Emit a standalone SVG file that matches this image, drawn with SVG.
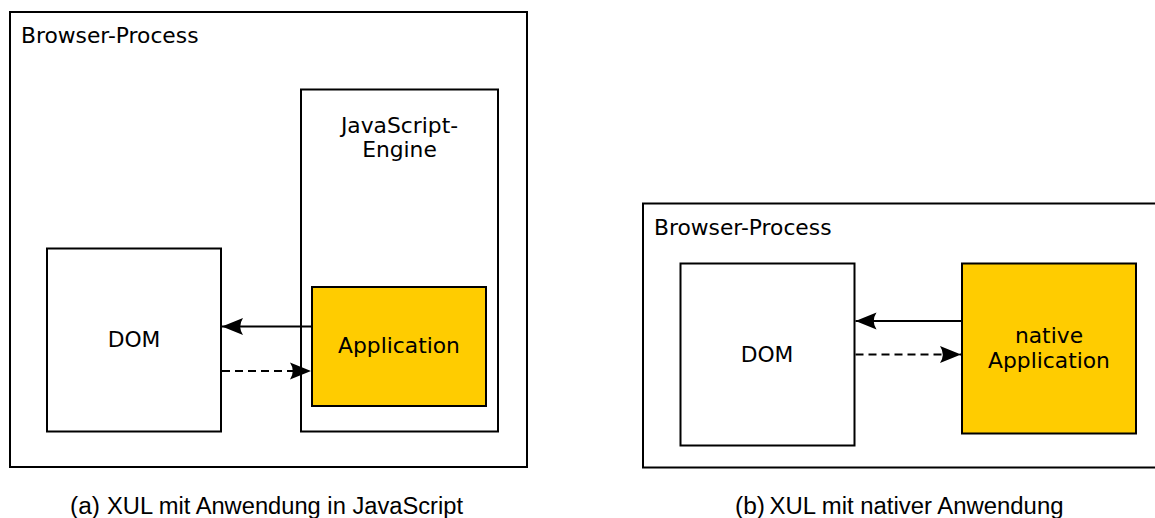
<svg xmlns="http://www.w3.org/2000/svg" width="1155" height="518" viewBox="0 0 1155 518">
  <style>
    .box { fill: #ffffff; stroke: #000000; stroke-width: 2; }
    .app { fill: #ffcc00; stroke: #000000; stroke-width: 2; }
    .label { font-family: "DejaVu Sans", sans-serif; font-size: 21.8px; fill: #000000; }
    .mid { text-anchor: middle; }
    .caption { font-family: "Liberation Sans", Arial, sans-serif; font-size: 23.5px; fill: #000000; }
    .conn { fill: none; stroke: #000000; stroke-width: 2; }
    .dash { stroke-dasharray: 8 5; }
  </style>
  <defs>
    <marker id="arrow" markerUnits="userSpaceOnUse" markerWidth="30" markerHeight="24" viewBox="-24 -12 30 24" refX="0" refY="0" orient="auto">
      <path d="M0,0 L-21,-8.5 Q-15.5,0 -21,8.5 Z" fill="#000000"/>
    </marker>
  </defs>

  <!-- (a) XUL application running in the JavaScript engine -->
  <g id="browser-process-a">
    <rect class="box" x="10" y="12" width="517" height="455"/>
    <text class="label" x="21" y="43">Browser-Process</text>
  </g>
  <g id="js-engine">
    <rect class="box" x="301" y="89.5" width="197" height="342"/>
    <text class="label mid" x="399.5" y="133">JavaScript-</text>
    <text class="label mid" x="399.5" y="157">Engine</text>
  </g>
  <g id="dom-a">
    <rect class="box" x="47" y="248.5" width="174" height="183"/>
    <text class="label mid" x="134" y="347">DOM</text>
  </g>
  <g id="application-a">
    <rect class="app" x="312" y="287" width="174" height="119"/>
    <text class="label mid" x="399" y="353">Application</text>
  </g>

  <!-- (b) native application -->
  <g id="browser-process-b">
    <rect class="box" x="643" y="203.5" width="520" height="264"/>
    <text class="label" x="654" y="235">Browser-Process</text>
  </g>
  <g id="dom-b">
    <rect class="box" x="680.5" y="263.5" width="174" height="182"/>
    <text class="label mid" x="767" y="362">DOM</text>
  </g>
  <g id="application-b">
    <rect class="app" x="962" y="263.5" width="174" height="170"/>
    <text class="label mid" x="1049" y="343">native</text>
    <text class="label mid" x="1049" y="368">Application</text>
  </g>

  <g id="connectors">
    <line class="conn" x1="312" y1="326.5" x2="222" y2="326.5" marker-end="url(#arrow)"/>
    <line class="conn dash" x1="222" y1="371" x2="311" y2="371" marker-end="url(#arrow)"/>
    <line class="conn" x1="962" y1="321" x2="855.5" y2="321" marker-end="url(#arrow)"/>
    <line class="conn dash" x1="855.5" y1="354.5" x2="961" y2="354.5" marker-end="url(#arrow)"/>
  </g>

  <g id="captions">
    <text class="caption" x="70" y="513.5" textLength="30" lengthAdjust="spacingAndGlyphs">(a)</text>
    <text class="caption" x="107" y="513.5" textLength="356" lengthAdjust="spacingAndGlyphs">XUL mit Anwendung in JavaScript</text>
    <text class="caption" x="735" y="513.5" textLength="30" lengthAdjust="spacingAndGlyphs">(b)</text>
    <text class="caption" x="769.5" y="513.5" textLength="294" lengthAdjust="spacingAndGlyphs">XUL mit nativer Anwendung</text>
  </g>
</svg>
